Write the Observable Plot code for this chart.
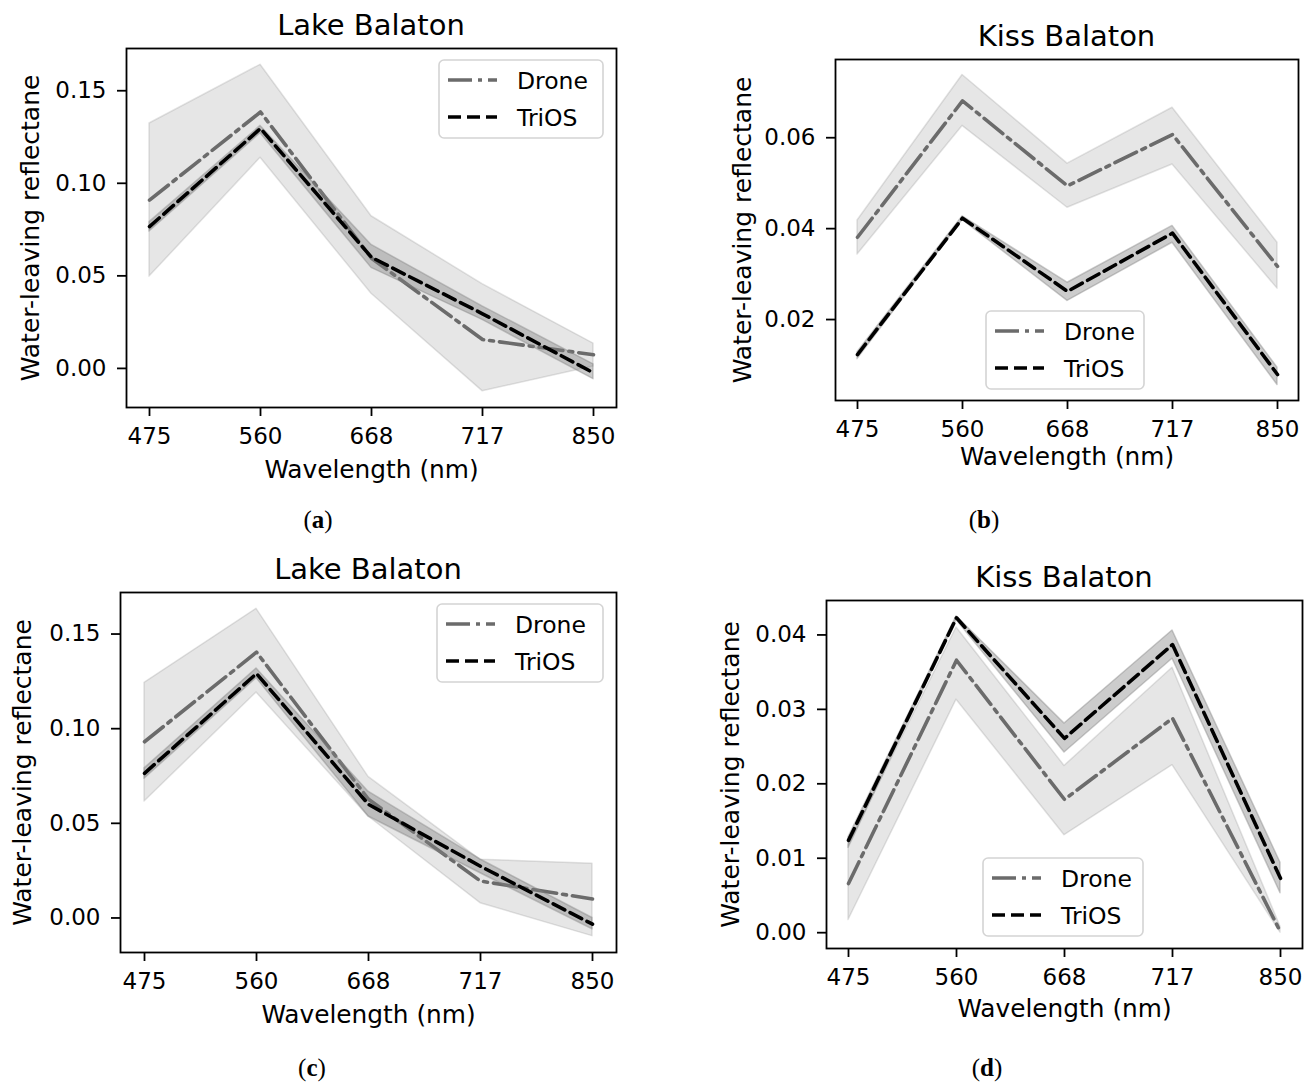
<!DOCTYPE html>
<html>
<head>
<meta charset="utf-8">
<title>Water-leaving reflectance: Drone vs TriOS</title>
<script src="https://cdn.jsdelivr.net/npm/d3@7"></script>
<script src="https://cdn.jsdelivr.net/npm/@observablehq/plot@0.6"></script>
<style>
  html, body { margin: 0; padding: 0; background: #fff; }
  #figure { position: relative; width: 1314px; height: 1086px; overflow: hidden; background: #fff; }
  #figure svg { position: absolute; left: 0; top: 0; }
</style>
</head>
<body>
<div id="figure"></div>
<script>
// Band centres (nm), used as categorical x positions
const wavelengths = ["475", "560", "668", "717", "850"];

// (a) Lake Balaton
const droneA   = [0.0909, 0.1385, 0.0595, 0.0156, 0.0074];
const droneALo = [0.0496, 0.1138, 0.0403, -0.0123, 0.0010];
const droneAHi = [0.1323, 0.1640, 0.0822, 0.0455, 0.0134];
const triosA   = [0.0766, 0.1296, 0.0600, 0.0295, -0.0024];
const triosALo = [0.0740, 0.1270, 0.0543, 0.0262, -0.0058];
const triosAHi = [0.0790, 0.1310, 0.0667, 0.0335, 0.0022];

// (b) Kiss Balaton
const droneB   = [0.0381, 0.0681, 0.0494, 0.0607, 0.0317];
const droneBLo = [0.0343, 0.0626, 0.0446, 0.0541, 0.0268];
const droneBHi = [0.0418, 0.0738, 0.0543, 0.0666, 0.0369];
const triosB   = [0.0123, 0.0423, 0.0262, 0.0390, 0.0079];
const triosBLo = [0.0113, 0.0419, 0.0241, 0.0369, 0.0056];
const triosBHi = [0.0128, 0.0427, 0.0281, 0.0406, 0.0094];

// (c) Lake Balaton
const droneC   = [0.0931, 0.1404, 0.0627, 0.0195, 0.0100];
const droneCLo = [0.0615, 0.1191, 0.0536, 0.0078, -0.0096];
const droneCHi = [0.1242, 0.1633, 0.0745, 0.0307, 0.0287];
const triosC   = [0.0764, 0.1291, 0.0600, 0.0273, -0.0033];
const triosCLo = [0.0736, 0.1267, 0.0536, 0.0236, -0.0060];
const triosCHi = [0.0790, 0.1318, 0.0667, 0.0309, 0.0000];

// (d) Kiss Balaton
const droneD   = [0.0066, 0.0366, 0.0179, 0.0288, 0.0001];
const droneDLo = [0.0017, 0.0313, 0.0131, 0.0225, 0.0000];
const droneDHi = [0.0117, 0.0410, 0.0224, 0.0356, 0.0008];
const triosD   = [0.0124, 0.0423, 0.0261, 0.0387, 0.0073];
const triosDLo = [0.0114, 0.0420, 0.0242, 0.0368, 0.0053];
const triosDHi = [0.0128, 0.0425, 0.0281, 0.0406, 0.0094];

// y tick values per panel
const ticksLake = [0, 0.05, 0.10, 0.15];
const ticksKissB = [0.02, 0.04, 0.06];
const ticksKissD = [0, 0.01, 0.02, 0.03, 0.04];

const seriesNames = ["Drone", "TriOS"];
const titles = ["Lake Balaton", "Kiss Balaton", "Lake Balaton", "Kiss Balaton"];
const captions = ["a", "b", "c", "d"];
const xLabel = "Wavelength (nm)";
const yLabel = "Water-leaving reflectane";

// ---- styling ----
const W = 1314, H = 1086;
const FONT = "DejaVu Sans";
const DRONE = "#6b6b6b";
const TRIOS = "#000000";
const BAND = "#808080";
const DASHDOT = "24,6,4,6";
const DASHED = "13,6";
const LINE_W = 3.6;

// ---- layout (page pixels) ----
const layout = [
  {frame: {left: 126, right: 616, top: 48, bottom: 407}, yLabelOffset: 105, xLabelOffset: 70,
   legend: {x: 439, y: 60, w: 164}, caption: [318, 528]},
  {frame: {left: 835, right: 1298, top: 59, bottom: 400}, yLabelOffset: 102, xLabelOffset: 64,
   legend: {x: 986, y: 311, w: 158}, caption: [984, 528]},
  {frame: {left: 120, right: 616, top: 592, bottom: 952}, yLabelOffset: 107, xLabelOffset: 70,
   legend: {x: 437, y: 604, w: 166}, caption: [312, 1076]},
  {frame: {left: 826, right: 1302, top: 600, bottom: 948}, yLabelOffset: 105, xLabelOffset: 68,
   legend: {x: 983, y: 858, w: 160}, caption: [987, 1076]}
];

const panelData = [
  {drone: droneA, droneLo: droneALo, droneHi: droneAHi, trios: triosA, triosLo: triosALo, triosHi: triosAHi, ticks: ticksLake},
  {drone: droneB, droneLo: droneBLo, droneHi: droneBHi, trios: triosB, triosLo: triosBLo, triosHi: triosBHi, ticks: ticksKissB},
  {drone: droneC, droneLo: droneCLo, droneHi: droneCHi, trios: triosC, triosLo: triosCLo, triosHi: triosCHi, ticks: ticksLake},
  {drone: droneD, droneLo: droneDLo, droneHi: droneDHi, trios: triosD, triosLo: triosDLo, triosHi: triosDHi, ticks: ticksKissD}
];

// autoscale with a 5% margin on each side of the data extent
function paddedDomain(lo, hi) {
  const s = hi - lo;
  return [lo - 0.05 * s, hi + 0.05 * s];
}

const figure = document.getElementById("figure");

panelData.forEach((d, k) => {
  const f = layout[k].frame;
  const rows = wavelengths.map((w, i) => ({
    w,
    drone: d.drone[i], droneLo: d.droneLo[i], droneHi: d.droneHi[i],
    trios: d.trios[i], triosLo: d.triosLo[i], triosHi: d.triosHi[i]
  }));
  const lo = d3.min([...d.droneLo, ...d.triosLo]);
  const hi = d3.max([...d.droneHi, ...d.triosHi]);

  const chart = Plot.plot({
    width: W,
    height: H,
    marginLeft: f.left,
    marginRight: W - f.right,
    marginTop: f.top,
    marginBottom: H - f.bottom,
    style: {background: "transparent", fontFamily: FONT, color: "#000", overflow: "visible"},
    x: {type: "point", domain: wavelengths, padding: 0.2},
    y: {domain: paddedDomain(lo, hi)},
    marks: [
      Plot.areaY(rows, {x: "w", y1: "droneLo", y2: "droneHi", fill: BAND, fillOpacity: 0.2,
        stroke: BAND, strokeOpacity: 0.22, strokeWidth: 1.5}),
      Plot.lineY(rows, {x: "w", y: "drone", stroke: DRONE, strokeWidth: LINE_W, strokeDasharray: DASHDOT}),
      Plot.areaY(rows, {x: "w", y1: "triosLo", y2: "triosHi", fill: BAND, fillOpacity: 0.4,
        stroke: BAND, strokeOpacity: 0.4, strokeWidth: 1.5}),
      Plot.lineY(rows, {x: "w", y: "trios", stroke: TRIOS, strokeWidth: LINE_W, strokeDasharray: DASHED}),
      Plot.axisX({tickSize: 9, tickPadding: 11, fontSize: 23, strokeWidth: 1.8, label: null}),
      Plot.axisX({ticks: [], label: xLabel, labelAnchor: "center", labelArrow: "none",
        labelOffset: layout[k].xLabelOffset, fontSize: 24.8}),
      Plot.axisY({ticks: d.ticks, tickFormat: d3.format(".2f"), tickSize: 9, tickPadding: 11,
        fontSize: 23, strokeWidth: 1.8, label: null}),
      Plot.axisY({ticks: [], label: yLabel, labelAnchor: "center", labelArrow: "none",
        labelOffset: layout[k].yLabelOffset, fontSize: 25}),
      Plot.frame({stroke: "#000", strokeWidth: 1.8})
    ]
  });
  figure.appendChild(chart);
});

// titles, legends and sub-figure captions
const overlay = d3.select(figure).append("svg")
  .attr("width", W).attr("height", H)
  .attr("font-family", FONT);

layout.forEach((L, k) => {
  const f = L.frame;
  overlay.append("text")
    .attr("x", (f.left + f.right) / 2)
    .attr("y", f.top - 13.5)
    .attr("text-anchor", "middle")
    .attr("font-size", 29)
    .attr("fill", "#000")
    .text(titles[k]);

  const lg = L.legend;
  const g = overlay.append("g");
  g.append("rect")
    .attr("x", lg.x).attr("y", lg.y).attr("width", lg.w).attr("height", 78)
    .attr("rx", 5).attr("fill", "#fff").attr("fill-opacity", 0.8)
    .attr("stroke", "#d4d4d4").attr("stroke-width", 1.6);
  const styles = [
    {stroke: DRONE, dash: DASHDOT},
    {stroke: TRIOS, dash: DASHED}
  ];
  [20, 57].forEach((dy, i) => {
    const cy = lg.y + dy;
    g.append("line")
      .attr("x1", lg.x + 9).attr("x2", lg.x + 58)
      .attr("y1", cy).attr("y2", cy)
      .attr("stroke", styles[i].stroke)
      .attr("stroke-width", LINE_W)
      .attr("stroke-dasharray", styles[i].dash);
    g.append("text")
      .attr("x", lg.x + 78).attr("y", cy + 8.5)
      .attr("font-size", 23.5)
      .attr("fill", "#000")
      .text(seriesNames[i]);
  });

  const cap = overlay.append("text")
    .attr("x", L.caption[0]).attr("y", L.caption[1])
    .attr("text-anchor", "middle")
    .attr("font-family", "Liberation Serif")
    .attr("font-size", 25)
    .attr("fill", "#000");
  cap.append("tspan").text("(");
  cap.append("tspan").attr("font-weight", "bold").text(captions[k]);
  cap.append("tspan").text(")");
});
</script>
</body>
</html>
